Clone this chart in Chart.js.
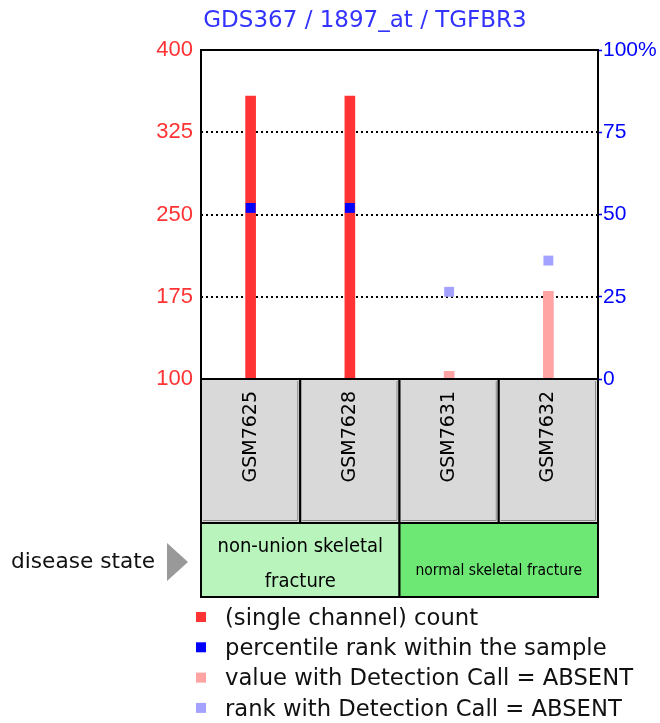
<!DOCTYPE html>
<html>
<head>
<meta charset="utf-8">
<title>GDS367 / 1897_at / TGFBR3</title>
<script src="https://cdn.jsdelivr.net/npm/chart.js@4.4.1/dist/chart.umd.min.js"></script>
<style>
    html, body { margin: 0; padding: 0; background: #ffffff; }
    #wrap { width: 660px; height: 723px; position: relative; }
</style>
</head>
<body>
<div id="wrap"><canvas id="profileChart" width="660" height="723"></canvas></div>
<script>
/**
 * Chart data
 */
const TITLE = 'GDS367 / 1897_at / TGFBR3';
const SAMPLES = ['GSM7625', 'GSM7628', 'GSM7631', 'GSM7632'];
const COUNTS = [358, 358, 107, 180];
const PERCENTILES = [52, 52, 26.5, 36];
const ABSENT = [false, false, true, true];
const COUNT_TICKS = [100, 175, 250, 325, 400];
const PERCENT_TICKS = [0, 25, 50, 75, 100];
const GROUP_TITLE = 'disease state';
const GROUP_LINES = [['non-union skeletal', 'fracture'], ['normal skeletal fracture']];
const GROUP_SIZES = [2, 2];
const LEGEND_LABELS = [
    '(single channel) count',
    'percentile rank within the sample',
    'value with Detection Call = ABSENT',
    'rank with Detection Call = ABSENT'
];

/**
 * Styles
 */
const COLORS = {
    count: '#ff3333',
    countAbsent: '#ffa3a3',
    rank: '#0000ff',
    rankAbsent: '#a3a3ff',
    leftAxis: '#ff3333',
    rightAxis: '#0000ff',
    title: '#3333ff',
    sampleBox: '#d9d9d9',
    groups: ['#b8f4bc', '#6ee874'],
    arrow: '#999999'
};
const LEGEND_COLORS = [COLORS.count, COLORS.rank, COLORS.countAbsent, COLORS.rankAbsent];
const GROUP_FONTS = [
    { size: 20, lineH: 35, dy: 4 },
    { size: 15.5, lineH: 18, dy: 11 }
];
const SAMPLE_BOX_H = 144;
const GROUP_BOX_H = 74;

// draws the frame, sample boxes, group row, title and legend around the plot
const decorPlugin = {
    id: 'decor',

    beforeDraw(chart) {
        const { ctx, chartArea: a, scales: { x } } = chart;
        const half = (a.right - a.left) / SAMPLES.length / 2;
        const top = a.bottom;
        const bottom = a.bottom + SAMPLE_BOX_H;

        ctx.save();
        SAMPLES.forEach((s, i) => {
            const cx = x.getPixelForValue(i);
            const l = cx - half;
            const r = cx + half;
            ctx.fillStyle = COLORS.sampleBox;
            ctx.fillRect(l, top, r - l, bottom - top);
            // little shadow on right/bottom edge
            ctx.strokeStyle = '#8a8a8a';
            ctx.lineWidth = 1;
            ctx.beginPath();
            ctx.moveTo(r - 2.5, top + 2);
            ctx.lineTo(r - 2.5, bottom - 2.5);
            ctx.lineTo(l + 2, bottom - 2.5);
            ctx.stroke();
            ctx.strokeStyle = '#000';
            ctx.lineWidth = 2;
            ctx.strokeRect(l, top, r - l, bottom - top);
        });
        ctx.restore();
    },

    afterDraw(chart) {
        const { ctx, chartArea: a, scales: { x } } = chart;
        const half = (a.right - a.left) / SAMPLES.length / 2;

        ctx.save();

        // plot frame
        ctx.strokeStyle = '#000';
        ctx.lineWidth = 2;
        ctx.strokeRect(a.left, a.top, a.right - a.left, a.bottom - a.top);

        // title
        ctx.fillStyle = COLORS.title;
        ctx.font = '23px "DejaVu Sans"';
        ctx.textAlign = 'center';
        ctx.textBaseline = 'middle';
        ctx.fillText(TITLE, 365, 21);

        // group row
        const gTop = a.bottom + SAMPLE_BOX_H;
        let start = 0;
        GROUP_SIZES.forEach((n, g) => {
            const l = x.getPixelForValue(start) - half;
            const r = x.getPixelForValue(start + n - 1) + half;
            ctx.fillStyle = COLORS.groups[g];
            ctx.fillRect(l, gTop, r - l, GROUP_BOX_H);
            ctx.strokeStyle = '#000';
            ctx.lineWidth = 2;
            ctx.strokeRect(l, gTop, r - l, GROUP_BOX_H);

            const f = GROUP_FONTS[g];
            const lines = GROUP_LINES[g];
            ctx.fillStyle = '#000';
            ctx.font = f.size + 'px "DejaVu Sans Condensed"';
            const mid = gTop + GROUP_BOX_H / 2 + f.dy;
            lines.forEach((t, k) => {
                const y = mid + (k - (lines.length - 1) / 2) * f.lineH;
                ctx.fillText(t, (l + r) / 2, y);
            });
            start += n;
        });

        // row title and arrow
        const rowMid = gTop + GROUP_BOX_H / 2 + 2;
        ctx.fillStyle = '#111';
        ctx.font = '21.7px "DejaVu Sans"';
        ctx.textAlign = 'left';
        ctx.fillText(GROUP_TITLE, 11, rowMid);
        ctx.fillStyle = COLORS.arrow;
        ctx.beginPath();
        ctx.moveTo(167, rowMid - 19);
        ctx.lineTo(188, rowMid);
        ctx.lineTo(167, rowMid + 19);
        ctx.closePath();
        ctx.fill();

        // legend
        ctx.font = '22.7px "DejaVu Sans"';
        LEGEND_LABELS.forEach((t, i) => {
            const y = 617 + i * 30.3;
            ctx.fillStyle = LEGEND_COLORS[i];
            ctx.fillRect(196, y - 5, 10, 10);
            ctx.fillStyle = '#111';
            ctx.fillText(t, 225, y + 2);
        });

        ctx.restore();
    }
};

function initChart() {
    const ctx = document.getElementById('profileChart');

    new Chart(ctx, {
        data: {
            labels: SAMPLES,
            datasets: [{
                type: 'line',
                label: 'percentile rank',
                data: PERCENTILES,
                yAxisID: 'y1',
                showLine: false,
                pointStyle: 'rect',
                pointRadius: 7,
                pointHoverRadius: 7,
                pointBorderWidth: 0,
                pointBackgroundColor: ABSENT.map(a => a ? COLORS.rankAbsent : COLORS.rank),
                order: 1
            }, {
                type: 'bar',
                label: 'count',
                data: COUNTS,
                yAxisID: 'y',
                barThickness: 10,
                borderWidth: 0,
                backgroundColor: ABSENT.map(a => a ? COLORS.countAbsent : COLORS.count),
                order: 2
            }]
        },
        options: {
            responsive: false,
            animation: false,
            events: [],
            layout: {
                padding: { top: 50, bottom: 723 - 379 - SAMPLE_BOX_H, left: 0, right: 0 }
            },
            plugins: {
                legend: { display: false },
                tooltip: { enabled: false },
                title: { display: false }
            },
            scales: {
                x: {
                    type: 'category',
                    offset: true,
                    grid: { display: false, drawTicks: false },
                    border: { display: false },
                    ticks: {
                        minRotation: 90,
                        maxRotation: 90,
                        autoSkip: false,
                        padding: 12,
                        color: '#000',
                        font: { family: 'DejaVu Sans', size: 19 }
                    },
                    afterFit: s => { s.height = SAMPLE_BOX_H; }
                },
                y: {
                    position: 'left',
                    min: 100,
                    max: 400,
                    afterBuildTicks: s => { s.ticks = COUNT_TICKS.map(v => ({ value: v })); },
                    afterFit: s => { s.width = 201; },
                    grid: {
                        drawTicks: false,
                        lineWidth: 2,
                        color: c => (c.tick && (c.tick.value === 100 || c.tick.value === 400)) ? 'rgba(0,0,0,0)' : '#000'
                    },
                    border: { display: false, dash: [2, 3] },
                    ticks: {
                        color: COLORS.leftAxis,
                        padding: 8,
                        font: { family: 'Liberation Sans', size: 22 }
                    }
                },
                y1: {
                    position: 'right',
                    min: 0,
                    max: 100,
                    afterBuildTicks: s => { s.ticks = PERCENT_TICKS.map(v => ({ value: v })); },
                    afterFit: s => { s.width = 62; },
                    grid: {
                        drawOnChartArea: false,
                        drawTicks: true,
                        tickLength: 4,
                        tickWidth: 1.5,
                        tickColor: COLORS.rightAxis
                    },
                    border: { display: false },
                    ticks: {
                        color: COLORS.rightAxis,
                        padding: 1,
                        font: { family: 'Liberation Sans', size: 21 },
                        callback: v => v === 100 ? '100%' : v
                    }
                }
            }
        },
        plugins: [decorPlugin]
    });
}

initChart();
</script>
</body>
</html>
